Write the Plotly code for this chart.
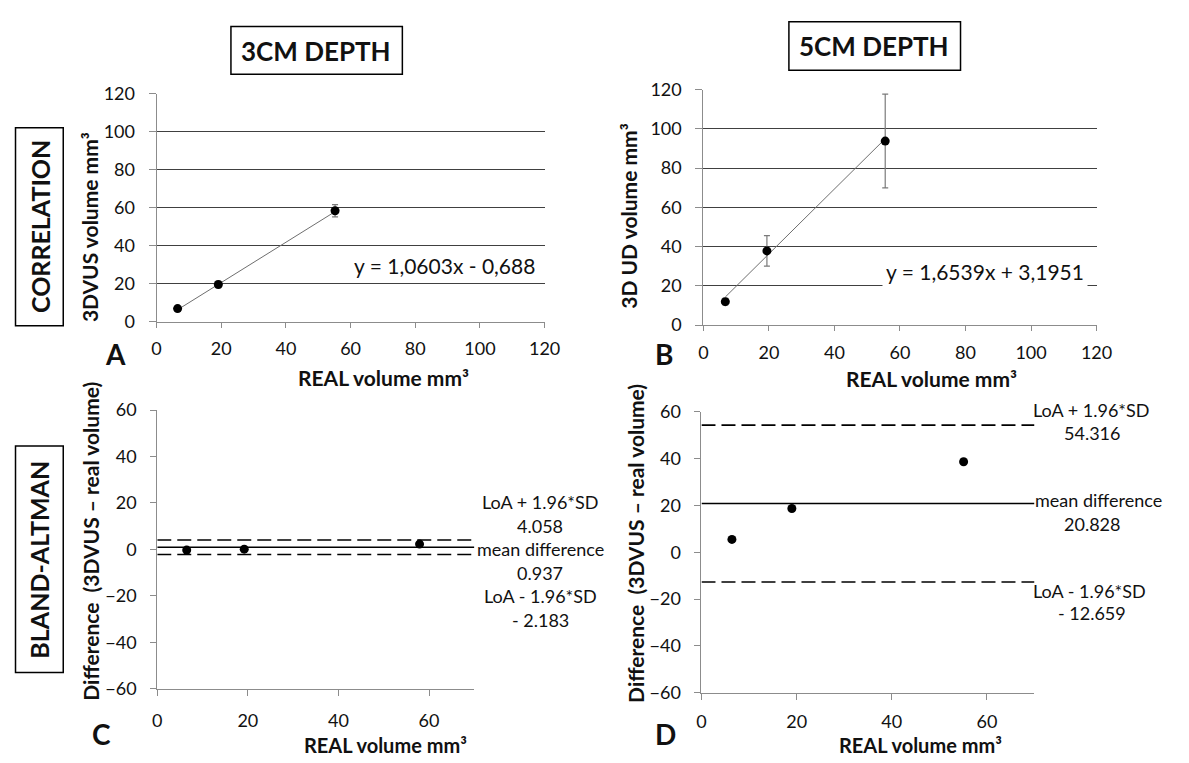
import plotly.graph_objects as go

W, H = 1189, 763

# ---------------- data ----------------
# Panel A : correlation, 3 cm depth
a_real = [6.5, 19.1, 55.2]
a_3dus = [6.8, 19.5, 58.3]
a_err = [1.0, 1.7, 3.2]
a_slope, a_intercept = 1.0603, -0.688
a_eq = "y = 1,0603x - 0,688"

# Panel B : correlation, 5 cm depth
b_real = [6.7, 19.4, 55.5]
b_3dus = [11.9, 37.8, 93.8]
b_err = [1.7, 7.8, 23.9]
b_slope, b_intercept = 1.6539, 3.1951
b_eq = "y = 1,6539x + 3,1951"

# Panel C : Bland-Altman, 3 cm depth
c_real = [6.5, 19.2, 57.9]
c_diff = [-0.3, 0.1, 2.3]
c_loa_upper, c_mean, c_loa_lower = 4.058, 0.937, -2.183

# Panel D : Bland-Altman, 5 cm depth
d_real = [6.4, 19.0, 55.1]
d_diff = [5.5, 18.7, 38.7]
d_loa_upper, d_mean, d_loa_lower = 54.316, 20.828, -12.659

corr_ticks = [0, 20, 40, 60, 80, 100, 120]
ba_xticks = [0, 20, 40, 60]
ba_yticks = [-60, -40, -20, 0, 20, 40, 60]
ba_xmax = 70

FONT = "Lato"
TXT = "#111111"
AXC = "#8c8c8c"
GRID = "#404040"
TICKSIZE = 18


def px(x):
    return x / W


def py(y):
    return 1 - y / H


fig = go.Figure()

# ---------------- axes ----------------
def corr_axes(xname, yname, xd, yd):
    xa = dict(domain=[px(xd[0]), px(xd[1])], range=[0, 120], tickvals=corr_ticks,
              showgrid=False, zeroline=False, showline=True, linecolor=AXC, linewidth=1,
              ticks="outside", ticklen=5, tickcolor=AXC, tickwidth=1,
              tickfont=dict(family=FONT, size=TICKSIZE, color=TXT), ticklabelstandoff=6,
              anchor=yname.replace("axis", ""), fixedrange=True)
    ya = dict(domain=[py(yd[1]), py(yd[0])], range=[0, 120], tickvals=corr_ticks,
              showgrid=True, gridcolor=GRID, gridwidth=1, zeroline=False,
              showline=True, linecolor=AXC, linewidth=1,
              ticks="outside", ticklen=7, tickcolor=AXC, tickwidth=1,
              tickfont=dict(family=FONT, size=TICKSIZE, color=TXT), ticklabelstandoff=10,
              anchor=xname.replace("axis", ""), fixedrange=True)
    return xa, ya


def ba_axes(xname, yname, xd, yd, xstand):
    xa = dict(domain=[px(xd[0]), px(xd[1])], range=[0, ba_xmax], tickvals=ba_xticks,
              showgrid=False, zeroline=False, showline=True, linecolor=AXC, linewidth=1,
              ticks="outside", ticklen=6, tickcolor=AXC, tickwidth=1,
              tickfont=dict(family=FONT, size=TICKSIZE, color=TXT), ticklabelstandoff=xstand,
              anchor=yname.replace("axis", ""), fixedrange=True)
    ya = dict(domain=[py(yd[1]), py(yd[0])], range=[-60, 60], tickvals=ba_yticks,
              showgrid=False, zeroline=False, showline=True, linecolor=AXC, linewidth=1,
              ticks="outside", ticklen=6, tickcolor=AXC, tickwidth=1,
              tickfont=dict(family=FONT, size=TICKSIZE, color=TXT), ticklabelstandoff=10,
              anchor=xname.replace("axis", ""), fixedrange=True)
    return xa, ya


xa1, ya1 = corr_axes("xaxis", "yaxis", (154.3, 549.3), (84, 318.7))
xa2, ya2 = corr_axes("xaxis2", "yaxis2", (710.9, 1111.2), (80, 322.3))
xa3, ya3 = ba_axes("xaxis3", "yaxis3", (155, 477.8), (410, 696.7), 10)
xa4, ya4 = ba_axes("xaxis4", "yaxis4", (709, 1048), (411.7, 701), 7)

# ---------------- traces ----------------
def corr_traces(xr, yv, err, slope, intercept, xref, yref):
    x0, x1 = min(xr), max(xr)
    fig.add_trace(go.Scatter(x=[x0, x1], y=[slope * x0 + intercept, slope * x1 + intercept],
                             mode="lines", line=dict(color="#6e6e6e", width=1),
                             xaxis=xref, yaxis=yref, hoverinfo="skip"))
    fig.add_trace(go.Scatter(x=xr, y=yv, mode="markers",
                             marker=dict(color="black", size=9),
                             error_y=dict(type="data", array=err, visible=True,
                                          color="#7a7a7a", thickness=1.2, width=3),
                             xaxis=xref, yaxis=yref, cliponaxis=False))


corr_traces(a_real, a_3dus, a_err, a_slope, a_intercept, "x", "y")
corr_traces(b_real, b_3dus, b_err, b_slope, b_intercept, "x2", "y2")


def ba_traces(xr, dv, up, mean, low, xref, yref):
    for val, dash in ((up, "14px,6px"), (low, "14px,6px"), (mean, "solid")):
        fig.add_trace(go.Scatter(x=[0, ba_xmax], y=[val, val], mode="lines",
                                 line=dict(color="black", width=1.6, dash=dash),
                                 xaxis=xref, yaxis=yref, hoverinfo="skip", cliponaxis=False))
    fig.add_trace(go.Scatter(x=xr, y=dv, mode="markers",
                             marker=dict(color="black", size=9),
                             xaxis=xref, yaxis=yref, cliponaxis=False))


ba_traces(c_real, c_diff, c_loa_upper, c_mean, c_loa_lower, "x3", "y3")
ba_traces(d_real, d_diff, d_loa_upper, d_mean, d_loa_lower, "x4", "y4")

# ---------------- annotations ----------------
ann = []


def text(x, y, s, size=16, bold=False, angle=0, xanchor="center", **kw):
    if bold:
        s = "<b>" + s + "</b>"
    ann.append(dict(x=px(x), y=py(y), xref="paper", yref="paper", text=s,
                    showarrow=False, textangle=angle, xanchor=xanchor, yanchor="middle",
                    font=dict(family=FONT, size=size, color=TXT), **kw))


def fmt(v):
    return f"{v:.3f}" if v >= 0 else "- " + f"{abs(v):.3f}"


# equations
text(447, 261, a_eq, size=21)
text(998, 267, b_eq, size=21, bgcolor="white", borderpad=3)

# axis titles
TS = 21
text(385, 376, "REAL volume mm³", size=TS, bold=True)
text(943, 377, "REAL volume mm³", size=TS, bold=True)
text(387, 755, "REAL volume mm³", size=20, bold=True, borderpad=0)
text(932, 755, "REAL volume mm³", size=20, bold=True, borderpad=0)
text(86, 221, "3DVUS volume mm³", size=TS, bold=True, angle=-90)
text(635, 210, "3D UD volume mm³", size=TS, bold=True, angle=-90)
text(87, 545, "Difference  (3DVUS – real volume)", size=TS, bold=True, angle=-90)
text(642, 547, "Difference  (3DVUS – real volume)", size=TS, bold=True, angle=-90)

# panel letters
text(112, 352, "A", size=28, bold=True)
text(671, 352, "B", size=28, bold=True)
text(98, 743, "C", size=28, bold=True)
text(672, 743, "D", size=28, bold=True)

# Bland-Altman labels C
c_lines = ["LoA + 1.96*SD", fmt(c_loa_upper), "mean difference", fmt(c_mean),
           "LoA - 1.96*SD", fmt(c_loa_lower)]
for i, s in enumerate(c_lines):
    text(545, 505 + 24.2 * i, s, size=18)

# Bland-Altman labels D
text(1106, 410, "LoA + 1.96*SD", size=18)
text(1107, 433.3, fmt(d_loa_upper), size=18)
text(1113, 502.7, "mean difference", size=18)
text(1107, 526.7, fmt(d_mean), size=18)
text(1104, 596, "LoA - 1.96*SD", size=18)
text(1107, 619.3, fmt(d_loa_lower), size=18)

# header / side boxes
shapes = []


def box(x0, y0, x1, y1):
    shapes.append(dict(type="rect", xref="paper", yref="paper",
                       x0=px(x0), x1=px(x1), y0=py(y1), y1=py(y0),
                       line=dict(color="black", width=1.5), fillcolor="rgba(0,0,0,0)"))


box(230, 15, 404.5, 64)
text(317, 40, "3CM DEPTH", size=26, bold=True)
box(798, 10, 972.7, 60)
text(885, 35.5, "5CM DEPTH", size=26, bold=True)
box(10.7, 119.3, 59.3, 323)
text(35, 221, "CORRELATION", size=25, bold=True, angle=-90)
box(10.7, 447, 59.3, 680)
text(35, 563.5, "BLAND-ALTMAN", size=25, bold=True, angle=-90)

fig.update_layout(
    width=W, height=H, autosize=False,
    margin=dict(l=0, r=0, t=0, b=0),
    paper_bgcolor="white", plot_bgcolor="white",
    showlegend=False,
    xaxis=xa1, yaxis=ya1, xaxis2=xa2, yaxis2=ya2,
    xaxis3=xa3, yaxis3=ya3, xaxis4=xa4, yaxis4=ya4,
    annotations=ann, shapes=shapes,
    font=dict(family=FONT, color=TXT),
)

fig.write_html("out.html")
